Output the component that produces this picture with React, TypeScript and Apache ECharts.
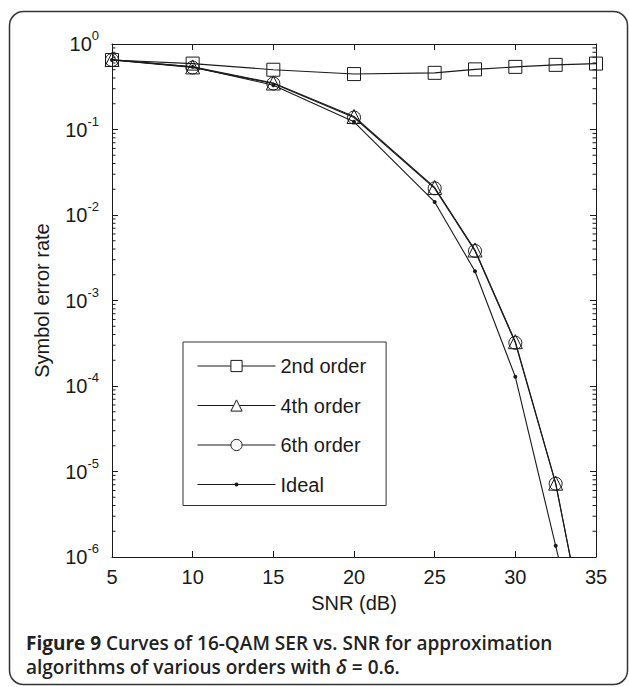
import React, { useEffect, useRef } from "react";
import * as echarts from "echarts";

const snr = [5, 10, 15, 20, 25, 27.5, 30, 32.5, 35];
const order2 = [0.65, 0.59, 0.5, 0.445, 0.46, 0.505, 0.54, 0.57, 0.59];
const order4 = [0.66, 0.54, 0.35, 0.142, 0.021, 0.0039, 3.3e-4, 7.3e-6, 3e-8];
const order6 = [0.65, 0.53, 0.345, 0.138, 0.0205, 0.0038, 3.2e-4, 7.2e-6, 3e-8];
const ideal = [0.65, 0.54, 0.33, 0.123, 0.0142, 0.0022, 1.28e-4, 1.35e-6, 1.5e-8];

const decades = [1e-6, 1e-5, 1e-4, 1e-3, 1e-2, 1e-1];
const minorMultipliers = [2, 3, 4, 5, 6, 7, 8, 9];

const FONT = "'Liberation Sans', Arial, sans-serif";
const CAP_FONT = "'Open Sans', 'Noto Sans', sans-serif";
const INK = "#1a1a1a";

export default function App() {
  const ref = useRef<HTMLDivElement>(null);

  useEffect(() => {
    if (!ref.current) return;
    const chart = echarts.init(ref.current, undefined, { renderer: "svg" });

    const minorTicks: number[][] = [];
    decades.forEach((d) => minorMultipliers.forEach((m) => minorTicks.push([5, d * m])));

    const pair = (ys: number[]) => snr.map((x, i) => [x, ys[i]]);

    const openMarker = (name: string, symbol: string, size: number, ys: number[]) => ({
      name,
      type: "line",
      data: pair(ys),
      symbol,
      symbolSize: size,
      showSymbol: true,
      lineStyle: { color: INK, width: 1.1 },
      itemStyle: { color: "transparent", borderColor: INK, borderWidth: 1 },
      emphasis: { disabled: true },
      z: 3,
    });

    const legendOpen = (name: string) => ({
      name,
      itemStyle: { color: "#fff", borderColor: INK, borderWidth: 1 },
      lineStyle: { color: INK, width: 1 },
    });

    const capStyle = (extra: any) => ({
      fontFamily: CAP_FONT,
      fontSize: 19,
      fontWeight: 600,
      fill: "#222",
      ...extra,
    });

    const option: any = {
      animation: false,
      backgroundColor: "#fff",
      grid: { left: 112, top: 44, width: 484, height: 513, containLabel: false },
      xAxis: [
        {
          type: "value",
          min: 5,
          max: 35,
          interval: 5,
          position: "bottom",
          name: "SNR (dB)",
          nameLocation: "middle",
          nameGap: 36,
          nameTextStyle: { fontFamily: FONT, fontSize: 20, color: INK },
          axisLine: { show: true, lineStyle: { color: INK, width: 1 } },
          axisTick: { show: true, inside: true, length: 6, lineStyle: { color: INK } },
          axisLabel: { fontFamily: FONT, fontSize: 20, color: INK, margin: 10 },
          splitLine: { show: false },
        },
        {
          type: "value",
          min: 5,
          max: 35,
          interval: 5,
          position: "top",
          axisLine: { show: true, onZero: false, lineStyle: { color: INK, width: 1 } },
          axisTick: { show: true, inside: true, length: 6, lineStyle: { color: INK } },
          axisLabel: { show: false },
          splitLine: { show: false },
        },
      ],
      yAxis: [
        {
          type: "log",
          logBase: 10,
          min: 1e-6,
          max: 1,
          position: "left",
          name: "Symbol error rate",
          nameLocation: "middle",
          nameGap: 60,
          nameTextStyle: { fontFamily: FONT, fontSize: 20, color: INK },
          axisLine: { show: true, lineStyle: { color: INK, width: 1 } },
          axisTick: { show: true, inside: true, length: 6, lineStyle: { color: INK } },
          axisLabel: {
            margin: 13,
            formatter: (v: number) => `{b|10}{s|${Math.round(Math.log10(v))}}`,
            rich: {
              b: { fontFamily: FONT, fontSize: 20, color: INK, lineHeight: 30 },
              s: { fontFamily: FONT, fontSize: 13, color: INK, lineHeight: 12, verticalAlign: "top" },
            },
          },
          splitLine: { show: false },
        },
        {
          type: "log",
          logBase: 10,
          min: 1e-6,
          max: 1,
          position: "right",
          axisLine: { show: true, onZero: false, lineStyle: { color: INK, width: 1 } },
          axisTick: { show: true, inside: true, length: 6, lineStyle: { color: INK } },
          axisLabel: { show: false },
          splitLine: { show: false },
        },
      ],
      legend: {
        orient: "vertical",
        left: 183,
        top: 342,
        padding: [14, 20, 11, 14],
        itemWidth: 78,
        itemHeight: 14,
        itemGap: 19.5,
        borderColor: "#333",
        borderWidth: 1,
        backgroundColor: "#fff",
        selectedMode: false,
        textStyle: { fontFamily: FONT, fontSize: 20, color: INK },
        data: [
          legendOpen("2nd order"),
          legendOpen("4th order"),
          legendOpen("6th order"),
          {
            name: "Ideal",
            icon: "path://M0,6.5 L78,6.5 L78,7.5 L0,7.5 Z M37,7 A2,2 0 1 1 41,7 A2,2 0 1 1 37,7 Z",
          },
        ],
      },
      series: [
        openMarker("2nd order", "rect", 13, order2),
        openMarker("4th order", "triangle", 14, order4),
        openMarker("6th order", "circle", 13, order6),
        {
          name: "Ideal",
          type: "line",
          data: pair(ideal),
          symbol: "circle",
          symbolSize: 4,
          lineStyle: { color: INK, width: 1.1 },
          itemStyle: { color: INK },
          emphasis: { disabled: true },
          z: 3,
        },
        {
          type: "custom",
          silent: true,
          data: minorTicks,
          encode: { x: 0, y: 1 },
          renderItem: (params: any, api: any) => {
            const v = api.value(1);
            const l = api.coord([5, v]);
            const r = api.coord([35, v]);
            return {
              type: "group",
              children: [
                { type: "line", shape: { x1: l[0], y1: l[1], x2: l[0] + 3.5, y2: l[1] }, style: { stroke: INK, lineWidth: 1 } },
                { type: "line", shape: { x1: r[0], y1: r[1], x2: r[0] - 3.5, y2: r[1] }, style: { stroke: INK, lineWidth: 1 } },
              ],
            };
          },
          z: 2,
        },
      ],
      graphic: [
        {
          type: "rect",
          shape: { x: 9.5, y: 11.5, width: 618, height: 673, r: 14 },
          style: { fill: "none", stroke: "#333", lineWidth: 1.5 },
          silent: true,
        },
        {
          type: "text",
          x: 26,
          y: 643,
          style: {
            text: "{b|Figure 9}{n| Curves of 16-QAM SER vs. SNR for approximation}",
            verticalAlign: "middle",
            rich: { b: capStyle({ fontWeight: "bold" }), n: capStyle({}) },
          },
        },
        {
          type: "text",
          x: 26,
          y: 667,
          style: {
            text: "{n|algorithms of various orders with }{i|δ}{n| = 0.6.}",
            verticalAlign: "middle",
            rich: { n: capStyle({}), i: capStyle({ fontStyle: "italic" }) },
          },
        },
      ],
    };

    chart.setOption(option);
    return () => chart.dispose();
  }, []);

  return (
    <div
      ref={ref}
      style={{ position: "fixed", left: 0, top: 0, width: 629, height: 687, background: "#fff" }}
    />
  );
}
